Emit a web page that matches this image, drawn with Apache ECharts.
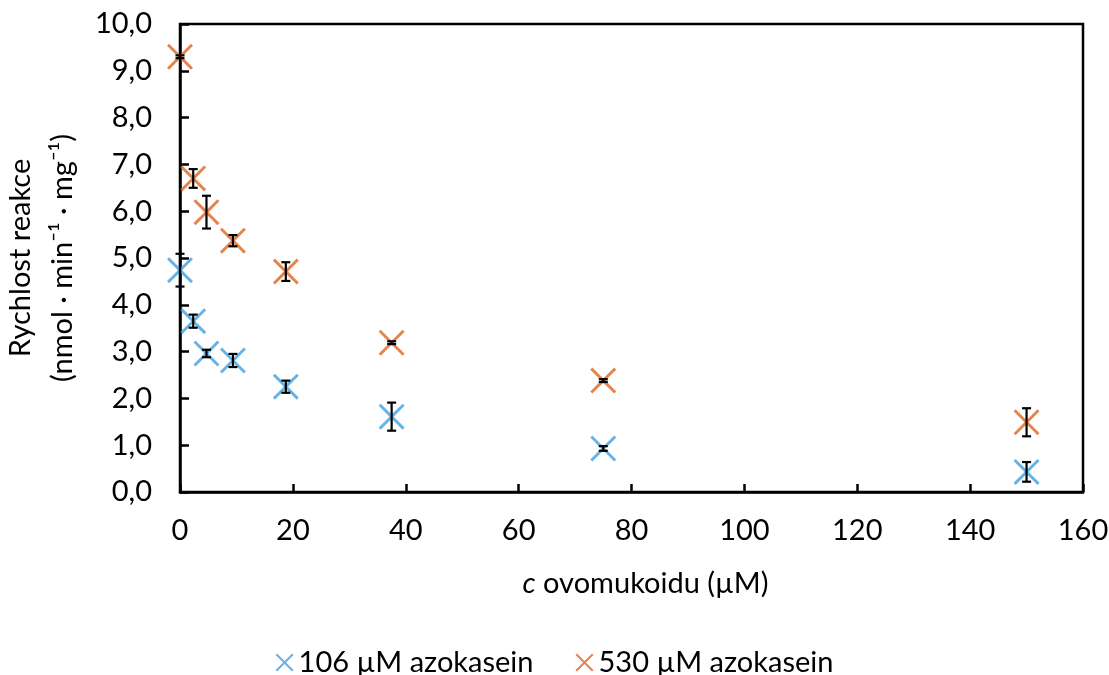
<!DOCTYPE html>
<html>
<head>
<meta charset="utf-8">
<script src="https://cdn.jsdelivr.net/npm/echarts@6/dist/echarts.min.js"></script>
<style>html,body{margin:0;padding:0;background:#fff}#c{width:1109px;height:675px}</style>
</head>
<body>
<div id="c"></div>
<script>
// Data
var concentrations = [0, 2.34, 4.69, 9.38, 18.75, 37.5, 75, 150];
var rate106 = [4.74, 3.65, 2.96, 2.81, 2.25, 1.61, 0.93, 0.43];
var err106 = [0.35, 0.14, 0.08, 0.14, 0.13, 0.30, 0.05, 0.21];
var rate530 = [9.30, 6.70, 5.98, 5.37, 4.71, 3.19, 2.38, 1.49];
var err530 = [0.03, 0.20, 0.35, 0.12, 0.20, 0.03, 0.03, 0.30];
var seriesNames = ['106 µM azokasein', '530 µM azokasein'];
var xTicks = [0, 20, 40, 60, 80, 100, 120, 140, 160];

var blue = '#3EA0E2';
var orange = '#DE651E';
var FONT = 'Lato, "Open Sans", sans-serif';
var FS = 29;

var t = 8;
var X = 'path://M0,' + t + 'L' + t + ',0L50,' + (50 - t) + 'L' + (100 - t) + ',0L100,' + t +
  'L' + (50 + t) + ',50L100,' + (100 - t) + 'L' + (100 - t) + ',100L50,' + (50 + t) +
  'L' + t + ',100L0,' + (100 - t) + 'L' + (50 - t) + ',50Z';

function pts(ys) { return concentrations.map(function (x, i) { return [x, ys[i]]; }); }
function errData(ys, es) { return concentrations.map(function (x, i) { return [x, ys[i] - es[i], ys[i] + es[i]]; }); }

function errRender(params, api) {
  var x = api.value(0), lo = api.value(1), hi = api.value(2);
  var p1 = api.coord([x, lo]), p2 = api.coord([x, hi]);
  var w = 4.5;
  var st = { stroke: '#000', lineWidth: 2.2 };
  return {
    type: 'group',
    children: [
      { type: 'line', shape: { x1: p1[0], y1: p1[1], x2: p2[0], y2: p2[1] }, style: st },
      { type: 'line', shape: { x1: p1[0] - w, y1: p1[1], x2: p1[0] + w, y2: p1[1] }, style: st },
      { type: 'line', shape: { x1: p2[0] - w, y1: p2[1], x2: p2[0] + w, y2: p2[1] }, style: st }
    ]
  };
}

var chart = echarts.init(document.getElementById('c'), null, { renderer: 'canvas' });
chart.setOption({
  animation: false,
  textStyle: { fontFamily: FONT },
  grid: { left: 180, right: 26, top: 24, bottom: 183, show: true, borderColor: '#000', borderWidth: 2.5,
    backgroundColor: 'transparent', containLabel: false, outerBoundsMode: 'none' },
  legend: {
    top: 643, left: 'center',
    itemWidth: 18, itemHeight: 18, itemGap: 42,
    data: [{ name: seriesNames[0], icon: X }, { name: seriesNames[1], icon: X }],
    textStyle: { fontSize: FS, color: '#000', fontFamily: FONT }
  },
  xAxis: {
    type: 'value', min: xTicks[0], max: xTicks[xTicks.length - 1], interval: 20,
    axisLine: { show: true, lineStyle: { color: '#000', width: 2.5 } },
    axisTick: { show: true, inside: true, length: 8, lineStyle: { color: '#000', width: 2.5 } },
    splitLine: { show: false },
    axisLabel: { fontSize: FS, color: '#000', margin: 24, fontFamily: FONT },
    name: '{i|c} ovomukoidu (µM)',
    nameLocation: 'middle', nameGap: 77,
    nameTextStyle: { fontSize: FS, color: '#000', fontFamily: FONT, padding: [0, 0, 0, 28],
      rich: { i: { fontStyle: 'italic', fontSize: FS, fontFamily: FONT, color: '#000' } } }
  },
  yAxis: {
    type: 'value', min: 0, max: 10, interval: 1,
    axisLine: { show: true, lineStyle: { color: '#000', width: 2.5 } },
    axisTick: { show: true, inside: true, length: 9, lineStyle: { color: '#000', width: 2.5 } },
    splitLine: { show: false },
    axisLabel: { fontSize: FS, color: '#000', margin: 28, fontFamily: FONT,
      formatter: function (v) { return v.toFixed(1).replace('.', ','); } },
    name: 'Rychlost reakce\n(nmol · min⁻¹ · mg⁻¹)',
    nameLocation: 'middle', nameGap: 95,
    nameTextStyle: { fontSize: FS, color: '#000', fontFamily: FONT, lineHeight: 42 }
  },
  series: [
    { name: seriesNames[0], type: 'scatter', data: pts(rate106), symbol: X, symbolSize: 26, itemStyle: { color: blue }, z: 2 },
    { name: seriesNames[1], type: 'scatter', data: pts(rate530), symbol: X, symbolSize: 26, itemStyle: { color: orange }, z: 2 },
    { name: 'err106', type: 'custom', data: errData(rate106, err106), renderItem: errRender, z: 3, encode: { x: 0, y: [1, 2] }, clip: false },
    { name: 'err530', type: 'custom', data: errData(rate530, err530), renderItem: errRender, z: 3, encode: { x: 0, y: [1, 2] }, clip: false }
  ]
});
</script>
</body>
</html>
